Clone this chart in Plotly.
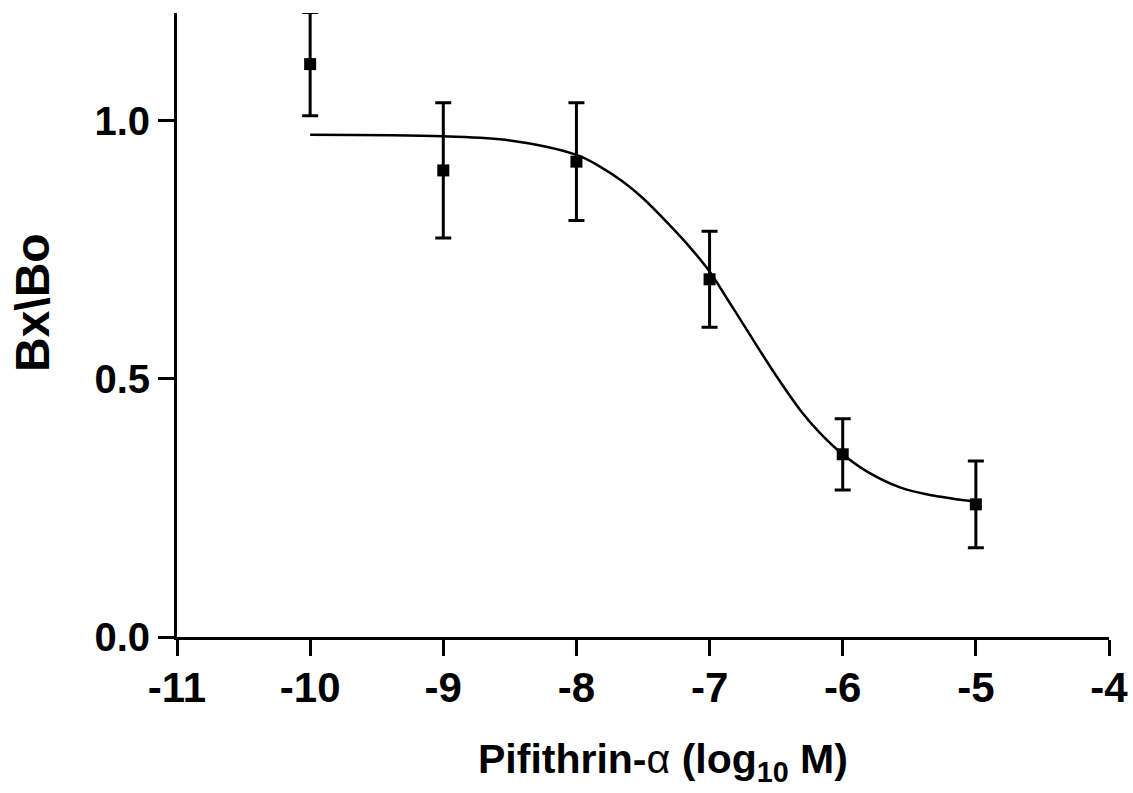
import plotly.graph_objects as go

# Measured data points (log10 M concentration vs Bx/Bo)
conc = [-10, -9, -8, -7, -6, -5]
ratio = [1.110, 0.904, 0.921, 0.693, 0.354, 0.257]
err = [0.100, 0.131, 0.114, 0.093, 0.069, 0.084]

# Fitted curve
curve_x = [-10.0, -9.0, -8.5, -8.0, -7.82, -7.65, -7.5, -7.3, -7.15, -7.0, -6.86, -6.72,
           -6.52, -6.32, -6.17, -6.0, -5.82, -5.57, -5.32, -5.0]
curve_y = [0.973, 0.970, 0.962, 0.934, 0.911, 0.882, 0.850, 0.798, 0.756, 0.708, 0.652, 0.595,
           0.514, 0.440, 0.395, 0.354, 0.321, 0.290, 0.274, 0.262]

x_ticks = [-11, -10, -9, -8, -7, -6, -5, -4]
y_ticks = [0.0, 0.5, 1.0]
y_labels = ["0.0", "0.5", "1.0"]

FONT = "Liberation Sans, Arial, sans-serif"

fig = go.Figure()
fig.add_trace(go.Scatter(
    x=curve_x, y=curve_y, mode="lines",
    line=dict(color="black", width=2.5, shape="spline", smoothing=1.0),
    hoverinfo="skip", showlegend=False,
))
fig.add_trace(go.Scatter(
    x=conc, y=ratio, mode="markers",
    marker=dict(symbol="square", size=12, color="black"),
    error_y=dict(type="data", array=err, visible=True, color="black",
                 thickness=3, width=8),
    showlegend=False,
))

fig.update_layout(
    width=1133, height=793,
    margin=dict(l=177, r=24, t=13, b=156, autoexpand=False),
    paper_bgcolor="white", plot_bgcolor="white",
    font=dict(family=FONT, color="black"),
    xaxis=dict(
        range=[-11, -4], tickmode="array", tickvals=x_ticks,
        ticktext=[str(t) for t in x_ticks],
        showgrid=False, zeroline=False, showline=True,
        linecolor="black", linewidth=3,
        ticks="outside", ticklen=16, tickwidth=2.5, tickcolor="black",
        tickfont=dict(family=FONT, size=42, color="black", weight="bold"),
        ticklabelstandoff=-4, automargin=False,
    ),
    yaxis=dict(
        range=[0, 1.209], tickmode="array", tickvals=y_ticks, ticktext=y_labels,
        showgrid=False, zeroline=False, showline=True,
        linecolor="black", linewidth=3,
        ticks="outside", ticklen=16, tickwidth=2.5, tickcolor="black",
        tickfont=dict(family=FONT, size=40, color="black", weight="bold"),
        automargin=False,
    ),
    annotations=[
        dict(text="<b>Pifithrin-</b>α<b> (log<sub>10</sub> M)</b>", xref="paper", yref="paper",
             x=(663 - 177) / 932, y=(637 - 762) / 624, xanchor="center", yanchor="middle",
             showarrow=False, font=dict(family=FONT, size=41, color="black")),
        dict(text="<b>Bx\\Bo</b>", xref="paper", yref="paper",
             x=(32 - 177) / 932, y=(637 - 303) / 624, xanchor="center", yanchor="middle",
             textangle=-90, showarrow=False,
             font=dict(family=FONT, size=48, color="black")),
    ],
)

fig.write_html("out.html", config={"displayModeBar": False},
               post_script="document.body.style.margin='0';document.body.style.padding='0';")
